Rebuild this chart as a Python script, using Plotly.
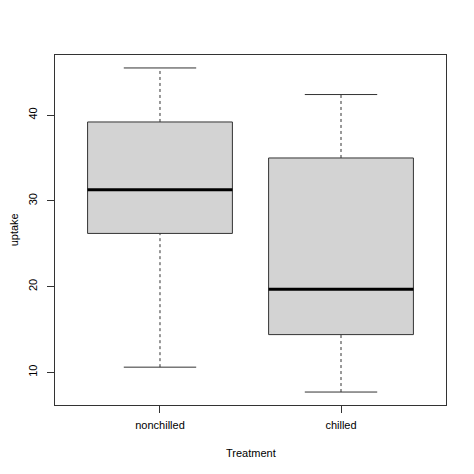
import plotly.graph_objects as go

# CO2 uptake by treatment (boxplot five-number summaries)
groups = ["nonchilled", "chilled"]
lower = [10.6, 7.7]
q1 = [26.2, 14.4]
median = [31.3, 19.7]
q3 = [39.2, 35.0]
upper = [45.5, 42.4]

pos = [i + 1 for i in range(len(groups))]
boxw = 0.8
capw = 0.4

fig = go.Figure()

# dashed whiskers
wx, wy = [], []
for p, lo, a, b, hi in zip(pos, lower, q1, q3, upper):
    wx += [p, p, None, p, p, None]
    wy += [lo, a, None, b, hi, None]
fig.add_trace(go.Scatter(x=wx, y=wy, mode="lines", line=dict(color="#333333", width=1, dash="3px,3px"),
                         hoverinfo="skip", showlegend=False))

# whisker caps
cx, cy = [], []
for p, lo, hi in zip(pos, lower, upper):
    cx += [p - capw / 2, p + capw / 2, None, p - capw / 2, p + capw / 2, None]
    cy += [lo, lo, None, hi, hi, None]
fig.add_trace(go.Scatter(x=cx, y=cy, mode="lines", line=dict(color="#333333", width=1),
                         hoverinfo="skip", showlegend=False))

# boxes
fig.add_trace(go.Bar(x=pos, base=q1, y=[b - a for a, b in zip(q1, q3)], width=boxw,
                     marker=dict(color="#d3d3d3", line=dict(color="#333333", width=1)),
                     hoverinfo="skip", showlegend=False))

# medians
mx, my = [], []
for p, m in zip(pos, median):
    mx += [p - boxw / 2, p + boxw / 2, None]
    my += [m, m, None]
fig.add_trace(go.Scatter(x=mx, y=my, mode="lines", line=dict(color="black", width=3),
                         hoverinfo="skip", showlegend=False))

ymin, ymax = min(lower), max(upper)
pad = 0.04 * (ymax - ymin)
xpad = 0.04 * len(groups)

# page body adds ~8px offset, margins compensate
fig.update_layout(
    width=474, height=474,
    margin=dict(l=47, r=36, t=47, b=77),
    plot_bgcolor="white", paper_bgcolor="white",
    font=dict(family="Liberation Sans, Arial, sans-serif", size=11, color="black"),
    xaxis=dict(range=[0.5 - xpad, len(groups) + 0.5 + xpad], tickvals=pos, ticktext=groups,
               showline=True, linecolor="#333333", linewidth=1, mirror=True, automargin=False,
               ticks="outside", ticklen=7, tickcolor="#333333", showgrid=False, zeroline=False,
               tickfont=dict(size=11), ticklabelstandoff=3),
    yaxis=dict(range=[ymin - pad, ymax + pad], tickvals=[10, 20, 30, 40], tickangle=-90,
               showline=True, linecolor="#333333", linewidth=1, mirror=True, automargin=False,
               ticks="outside", ticklen=7, tickcolor="#333333", showgrid=False, zeroline=False,
               tickfont=dict(size=11), ticklabelstandoff=6),
    annotations=[
        dict(text="Treatment", xref="paper", yref="paper", x=0.5, y=-0.136,
             xanchor="center", yanchor="middle", showarrow=False, font=dict(size=11)),
        dict(text="uptake", xref="paper", yref="paper", x=-0.104, y=0.5, textangle=-90,
             xanchor="center", yanchor="middle", showarrow=False, font=dict(size=11)),
    ],
)

fig.write_html("out.html")
